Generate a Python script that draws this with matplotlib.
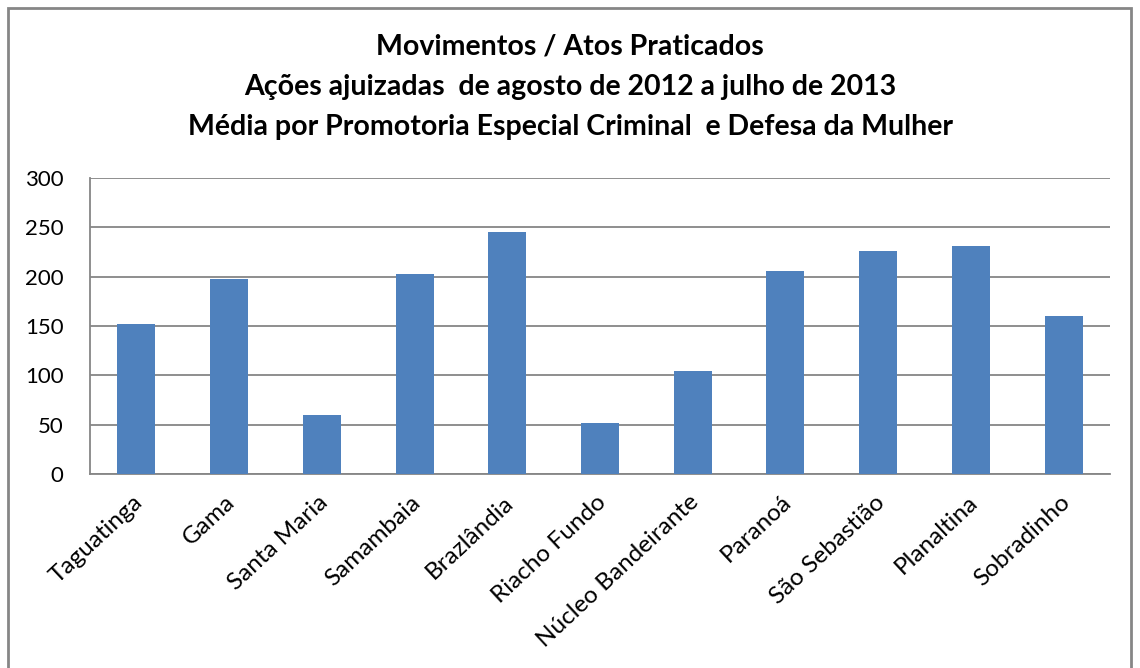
import matplotlib
matplotlib.use("Agg")
import matplotlib.pyplot as plt
import matplotlib.transforms as mtransforms
from matplotlib.patches import Rectangle

categories = ["Taguatinga", "Gama", "Santa Maria", "Samambaia", "Brazlândia",
              "Riacho Fundo", "Núcleo Bandeirante", "Paranoá", "São Sebastião",
              "Planaltina", "Sobradinho"]
values = [152, 198, 60, 203, 245, 52, 104, 206, 226, 231, 160]
yticks = [0, 50, 100, 150, 200, 250, 300]
title_lines = ["Movimentos / Atos Praticados",
               "Ações ajuizadas  de agosto de 2012 a julho de 2013",
               "Média por Promotoria Especial Criminal  e Defesa da Mulher"]

plt.rcParams['font.family'] = ['Lato', 'DejaVu Sans']

fig = plt.figure(figsize=(11.4, 6.68), dpi=100)
fig.patch.set_facecolor('white')

# outer chart border
fig.patches.append(Rectangle((8/1140, -0.05), 1123/1140, 1.05 - 8/668,
                             transform=fig.transFigure, fill=False,
                             edgecolor='#868686', linewidth=2))

ax = fig.add_axes([90/1140, (668-474)/668, 1020/1140, 296/668])
x = list(range(len(categories)))
ax.bar(x, values, width=0.41, color='#4F81BD', zorder=3)
ax.set_xlim(-0.5, len(categories) - 0.5)
ax.set_ylim(0, 300)
ax.set_yticks(yticks)
ax.set_yticklabels([str(t) for t in yticks], fontsize=16)
ax.yaxis.grid(True, color='#868686', linewidth=1.3, zorder=0)
ax.set_axisbelow(True)
for s in ['top', 'right']:
    ax.spines[s].set_visible(False)
for s in ['left', 'bottom']:
    ax.spines[s].set_color('#868686')
    ax.spines[s].set_linewidth(1.3)
ax.tick_params(axis='y', length=0, pad=19)
ax.tick_params(axis='x', length=0, pad=4)
ax.set_xticks(x)
ax.set_xticklabels(categories, rotation=43, ha='right', rotation_mode='anchor',
                   fontsize=17.5)
offset = mtransforms.ScaledTranslation(-4/100, -12/100, fig.dpi_scale_trans)
for lbl in ax.get_xticklabels():
    lbl.set_transform(lbl.get_transform() + offset)

for i, line in enumerate(title_lines):
    fig.text(0.5, 1 - (47 + 40*i)/668, line, ha='center', va='center',
             fontsize=20.5, fontweight='bold')

fig.savefig('out.png', dpi=100)
